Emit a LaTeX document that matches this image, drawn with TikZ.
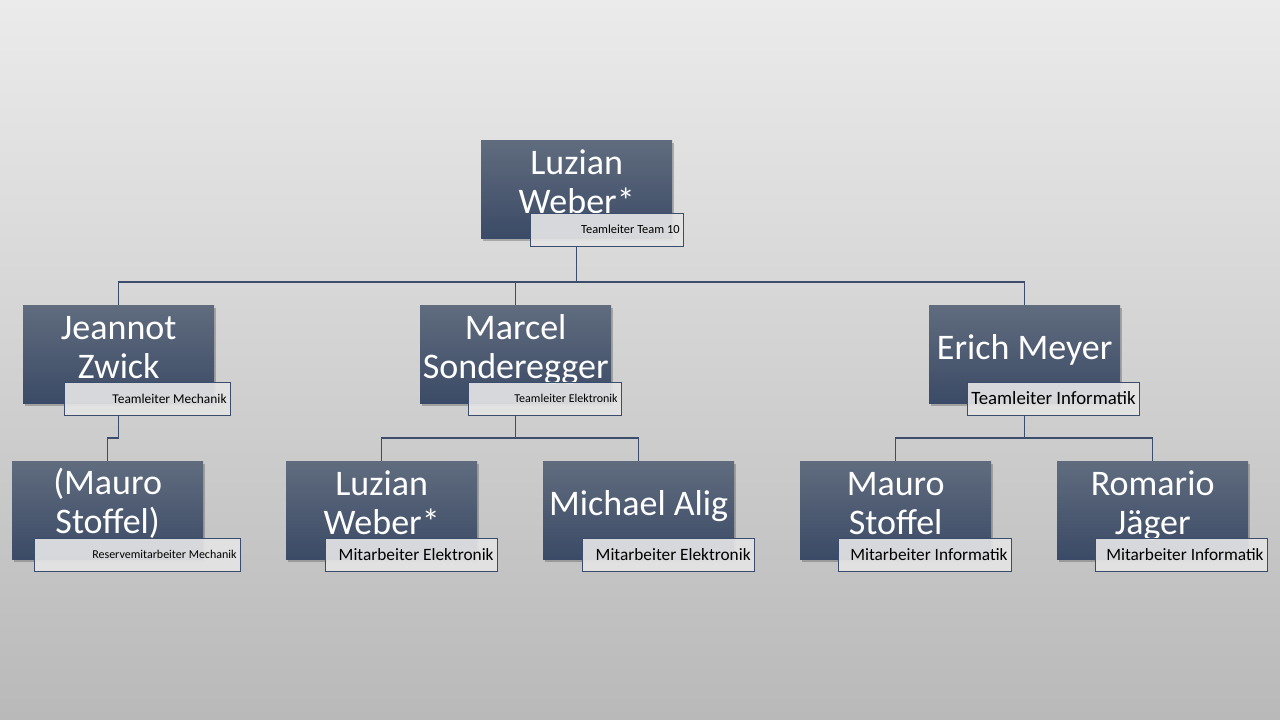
\documentclass[tikz,border=0pt]{standalone}
\usepackage{fontspec}
\setmainfont{Carlito}
\usetikzlibrary{shadows}
\definecolor{bgtop}{HTML}{EBEBEB}
\definecolor{bgmid}{HTML}{DDDDDD}
\definecolor{bgbot}{HTML}{B9B9B9}
\definecolor{boxtop}{HTML}{606C7E}
\definecolor{boxbot}{HTML}{3B4A66}
\definecolor{lblfill}{HTML}{E4E4E5}
\definecolor{lineblue}{HTML}{3B4C6C}
\tikzset{
  pbox/.style={rectangle, minimum width=191pt, minimum height=98pt, inner sep=0pt,
    top color=boxtop, bottom color=boxbot, draw=none,
    drop shadow={shadow xshift=2pt, shadow yshift=-3pt, opacity=0.35, fill=black!70}},
  pname/.style={text=white, align=center, font=\fontsize{36}{39}\selectfont, inner sep=0pt},
  lbox/.style={rectangle, draw=lineblue, line width=0.8pt, fill=lblfill, fill opacity=0.92,
    minimum height=33pt, inner sep=0pt},
  ltext/.style={text=black, inner sep=0pt, anchor=east},
  conn/.style={draw=lineblue, line width=1.2pt}
}
\newcommand\orgbox[5]{% id, x, y, text, text shift
  \node[pbox, anchor=north west] (#1) at (#2,#3) {};
  \node[pname] (#1t) at ([yshift=#5]#1.center) {#4};
}
\newcommand\orglabel[6]{% id, x, y, width, fontsize, text
  \node[lbox, anchor=north west, minimum width=#4pt] (#1) at (#2,#3) {};
  \node[ltext, font=\fontsize{#5}{#5}\selectfont] (#1t) at ([xshift=-4pt,yshift=0.5pt]#1.east) {#6};
}
\begin{document}
\begin{tikzpicture}[x=1pt,y=-1pt]
\shade[top color=bgtop, middle color=bgmid, bottom color=bgbot] (0,0) rectangle (1280,720);
\useasboundingbox (0,0) rectangle (1280,720);

% boxes
\orgbox{top}{481}{140}{Luzian\\Weber*}{7pt}
\orgbox{jz}{23}{305}{Jeannot\\Zwick}{7pt}
\orgbox{ms}{420}{305}{Marcel\\Sonderegger}{4.5pt}
\orgbox{em}{929}{305}{Erich Meyer}{4.5pt}
\orgbox{rms}{12}{461}{(Mauro\\Stoffel)}{7pt}
\orgbox{lw}{286}{461}{Luzian\\Weber*}{7pt}
\orgbox{ma}{543}{461}{Michael Alig}{4.5pt}
\orgbox{mst}{800}{461}{Mauro\\Stoffel}{7pt}
\orgbox{rj}{1057}{461}{Romario\\Jäger}{4pt}

% connectors
\coordinate (bus1) at (577,282);
\coordinate (bus2) at (515,438);
\draw[conn] (top.south |- 0,246) -- (top.south |- bus1);
\draw[conn] (top.south |- bus1) -| (jz.north);
\draw[conn] (top.south |- bus1) -| (ms.north);
\draw[conn] (top.south |- bus1) -| (em.north);
\draw[conn] (jz.south |- 0,415) -- (jz.south |- bus2) -| (rms.north);
\draw[conn] (ms.south |- 0,415) -- (ms.south |- bus2) -| (lw.north);
\draw[conn] (ms.south |- bus2) -| (ma.north);
\draw[conn] (em.south |- 0,415) -- (em.south |- bus2) -| (mst.north);
\draw[conn] (em.south |- bus2) -| (rj.north);

% labels
\orglabel{topl}{530}{213}{153}{12.4}{Teamleiter Team 10}
\orglabel{jzl}{64}{382}{166}{13.4}{Teamleiter Mechanik}
\orglabel{msl}{468}{382}{153}{12}{Teamleiter Elektronik}
\orglabel{eml}{967}{382}{172}{18.8}{Teamleiter Informatik}
\orglabel{rmsl}{34}{538}{206}{12}{Reservemitarbeiter Mechanik}
\orglabel{lwl}{325}{538}{172}{17.3}{Mitarbeiter Elektronik}
\orglabel{mal}{582}{538}{172}{17.3}{Mitarbeiter Elektronik}
\orglabel{mstl}{838}{538}{173}{17.3}{Mitarbeiter Informatik}
\orglabel{rjl}{1095}{538}{172}{17.3}{Mitarbeiter Informatik}
\end{tikzpicture}
\end{document}
